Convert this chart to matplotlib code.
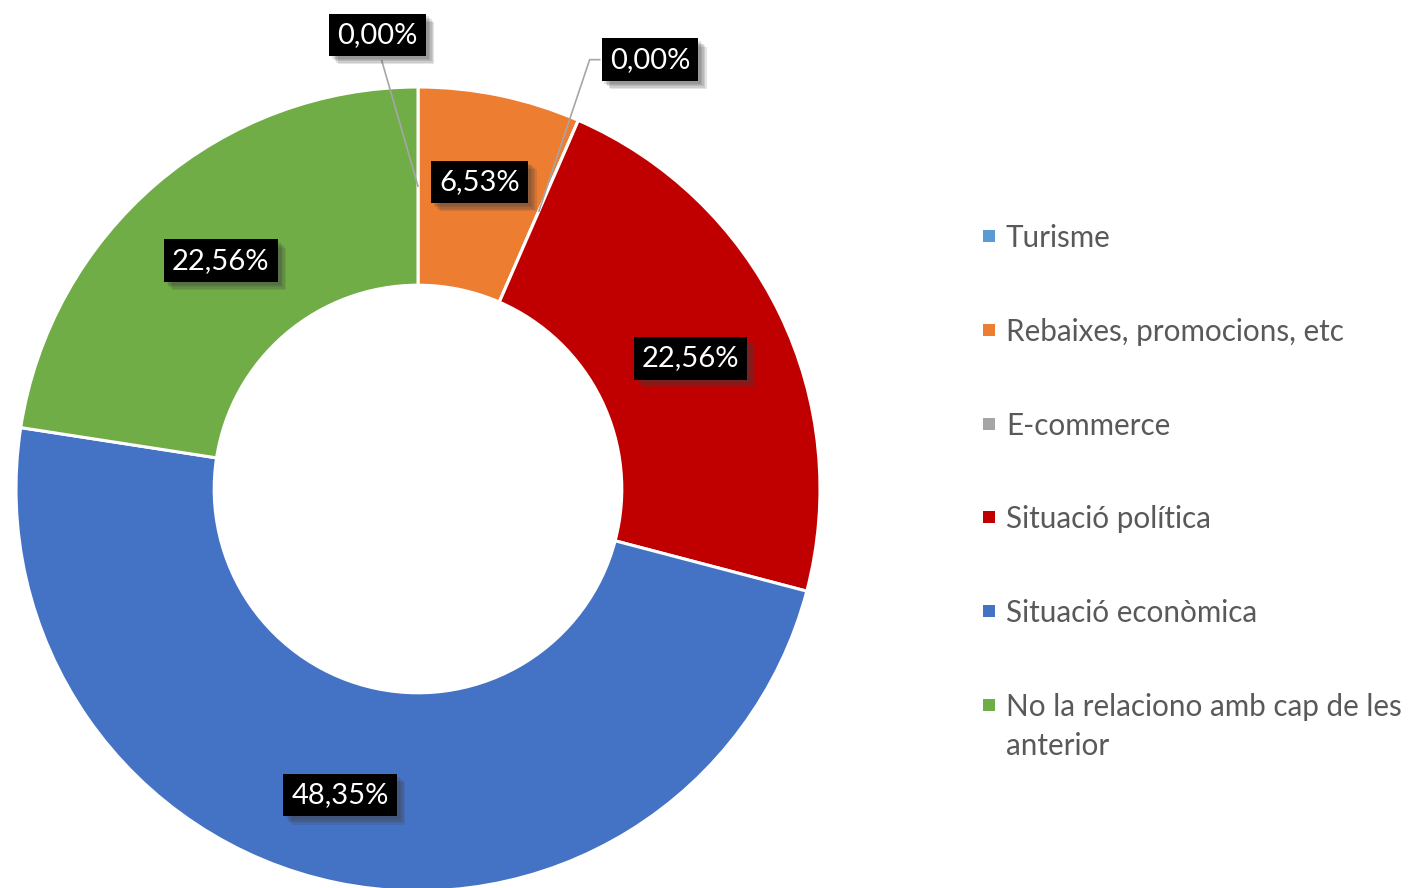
import numpy as np
import matplotlib.pyplot as plt
import matplotlib.patheffects as pe
from matplotlib.patches import Rectangle

plt.rcParams['font.family'] = ['Lato', 'DejaVu Sans']

categories = ["Turisme", "Rebaixes, promocions, etc", "E-commerce",
              "Situació política", "Situació econòmica",
              "No la relaciono amb cap de les\nanterior"]
values = [0.00, 6.53, 0.00, 22.56, 48.35, 22.56]
colors = ["#5B9BD5", "#ED7D31", "#A5A5A5", "#C00000", "#4472C4", "#70AD47"]

W, H = 1417, 888
fig = plt.figure(figsize=(W / 100, H / 100), dpi=100)
ax = fig.add_axes([16 / W, (H - 891) / H, 804 / W, 804 / H])

ring = 0.493
wedges, _ = ax.pie(values, colors=colors, startangle=90, counterclock=False,
                   radius=1, wedgeprops=dict(width=ring, edgecolor="white", linewidth=2.2))
ax.set_xlim(-1, 1)
ax.set_ylim(-1, 1)
ax.set_aspect("equal")
ax.axis("off")

# soft shadow: a few stacked offset shadows
shadow = [pe.withSimplePatchShadow(offset=(k, -k), shadow_rgbFace="#404040", alpha=0.14)
          for k in (2, 3, 4, 5, 6)] + [pe.Normal()]
box = dict(boxstyle="square,pad=0.28", facecolor="black", edgecolor="none")

def fmt(v):
    return ("%.2f%%" % v).replace(".", ",")

rmid = 1 - ring / 2
nudge = {1: (0.0, 0.03), 4: (-0.04, -0.02)}
zero_pos = {0: (-0.10, 1.13), 2: (0.577, 1.068)}

for i, (w, v) in enumerate(zip(wedges, values)):
    ang = np.deg2rad((w.theta1 + w.theta2) / 2)
    px, py = rmid * np.cos(ang), rmid * np.sin(ang)
    if v == 0:
        tx, ty = zero_pos[i]
        if i == 2:
            ax.plot([tx - 0.125, tx - 0.15, px], [ty, ty, py], color="#A6A6A6",
                    lw=1.2, clip_on=False, zorder=3)
        else:
            ax.plot([tx + 0.01, px], [ty - 0.065, py], color="#A6A6A6",
                    lw=1.2, clip_on=False, zorder=3)
    else:
        dx, dy = nudge.get(i, (0, 0))
        tx, ty = px + dx, py - 0.004 + dy
    t = ax.text(tx, ty, fmt(v), ha="center", va="center", color="white",
                fontsize=21, bbox=box, zorder=5, clip_on=False)
    t.get_bbox_patch().set_path_effects(shadow)

# legend drawn by hand so the wrapped label keeps its marker on the first line
row_y = [236, 330, 424, 517, 611, 705]
for lab, col, y in zip(categories, colors, row_y):
    fig.patches.append(Rectangle((983 / W, 1 - (y + 6) / H), 12 / W, 12 / H,
                                 transform=fig.transFigure, facecolor=col,
                                 edgecolor="none"))
    for k, line in enumerate(lab.split("\n")):
        fig.text(1006 / W, 1 - (y + 2 + 39 * k) / H, line, ha="left", va="center",
                 fontsize=21.3, color="#595959")

fig.savefig("out.png", dpi=100)
